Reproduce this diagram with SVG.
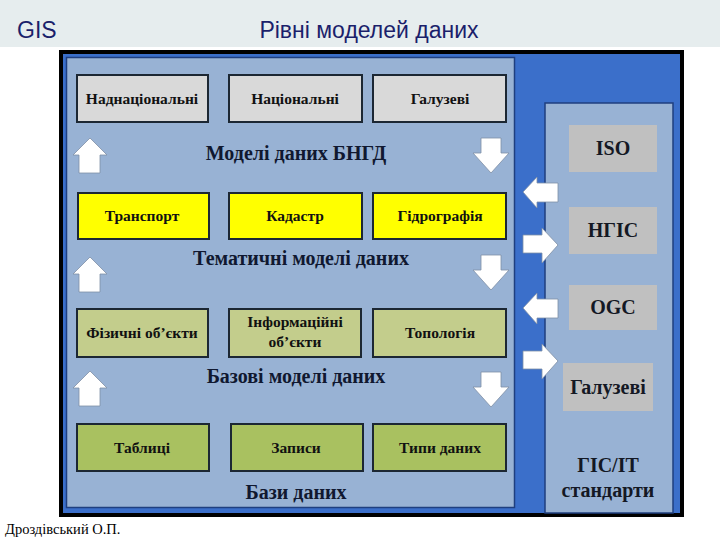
<svg xmlns="http://www.w3.org/2000/svg" width="720" height="540" viewBox="0 0 720 540">
<style>
.box{stroke:#1c2733;stroke-width:2}
.gray{fill:#d9d9d9}
.yel{fill:#ffff00}
.grn1{fill:#c3cd8c}
.grn2{fill:#a9c160}
.std{fill:#c0c0c0}
.bl{font-family:"Liberation Serif",serif;font-weight:bold;font-size:15.5px;fill:#111;text-anchor:middle}
.sec{font-family:"Liberation Serif",serif;font-weight:bold;font-size:20px;fill:#101830;text-anchor:middle}
.rs{font-family:"Liberation Serif",serif;font-weight:bold;font-size:20px;fill:#141824;text-anchor:middle}
.arr{fill:#ffffff;stroke:#7f8fa6;stroke-width:0.8}
.ttl{font-family:"Liberation Sans",Arial,sans-serif;font-size:23px;fill:#1b1f6b}
</style>
<defs>
<polygon id="up" points="0,0 17,17 10,17 10,35 -11,35 -11,17 -17,17"/>
<polygon id="down" points="0,0 18,-20 10,-20 10,-35 -10,-35 -10,-20 -18,-20"/>
<polygon id="left" points="0,0 14,-15 14,-9 35,-9 35,10 14,10 14,16"/>
<polygon id="right" points="0,0 -16,-17 -16,-10 -35,-10 -35,8 -16,8 -16,18"/>
</defs>
<rect x="0" y="0" width="720" height="47" fill="#e6edee"/>
<rect x="0" y="47" width="720" height="493" fill="#ffffff"/>
<text class="ttl" x="17" y="38">GIS</text>
<text class="ttl" x="369" y="38" text-anchor="middle">Рівні моделей даних</text>
<g id="frame">
<rect x="61" y="52" width="621" height="463" fill="#3b6fca" stroke="#000" stroke-width="4"/>
<rect x="66.5" y="57.5" width="448" height="450" fill="#98b2d4" stroke="#1f3f7f" stroke-width="1.5"/>
<rect x="545" y="103" width="128" height="410" fill="#98b2d4" stroke="#1f3f7f" stroke-width="1.5"/>
</g>
<g id="n1"><rect class="box gray" x="77" y="75" width="131" height="47"/><text class="bl" x="142" y="104">Наднаціональні</text></g>
<g id="n2"><rect class="box gray" x="229" y="75" width="133" height="47"/><text class="bl" x="295" y="104">Національні</text></g>
<g id="n3"><rect class="box gray" x="373" y="75" width="133" height="47"/><text class="bl" x="440" y="104">Галузеві</text></g>
<text class="sec" x="296" y="160">Моделі даних БНГД</text>
<g id="n4"><rect class="box yel" x="78" y="193" width="131" height="46"/><text class="bl" x="142" y="221">Транспорт</text></g>
<g id="n5"><rect class="box yel" x="229" y="193" width="133" height="46"/><text class="bl" x="295" y="221">Кадастр</text></g>
<g id="n6"><rect class="box yel" x="373" y="193" width="133" height="46"/><text class="bl" x="440" y="221">Гідрографія</text></g>
<text class="sec" x="301" y="265">Тематичні моделі даних</text>
<g id="n7"><rect class="box grn1" x="77" y="309" width="131" height="48"/><text class="bl" x="142" y="338">Фізичні об’єкти</text></g>
<g id="n8"><rect class="box grn1" x="229" y="309" width="132" height="48"/><text class="bl" x="295" y="327">Інформаційні</text><text class="bl" x="295" y="347">об’єкти</text></g>
<g id="n9"><rect class="box grn1" x="373" y="309" width="133" height="48"/><text class="bl" x="440" y="338">Топологія</text></g>
<text class="sec" x="296" y="383">Базові моделі даних</text>
<g id="n10"><rect class="box grn2" x="77" y="424" width="132" height="47"/><text class="bl" x="142" y="453">Таблиці</text></g>
<g id="n11"><rect class="box grn2" x="231" y="424" width="132" height="47"/><text class="bl" x="296" y="453">Записи</text></g>
<g id="n12"><rect class="box grn2" x="373" y="424" width="133" height="47"/><text class="bl" x="440" y="453">Типи даних</text></g>
<text class="sec" x="296" y="499">Бази даних</text>
<g id="s1"><rect class="std" x="569" y="125" width="88" height="47"/><text class="rs" x="613" y="155">ISO</text></g>
<g id="s2"><rect class="std" x="569" y="207" width="88" height="47"/><text class="rs" x="613" y="237">НГІС</text></g>
<g id="s3"><rect class="std" x="569" y="285" width="88" height="45"/><text class="rs" x="613" y="314">OGC</text></g>
<g id="s4"><rect class="std" x="563" y="363" width="90" height="48"/><text class="rs" x="608" y="394">Галузеві</text></g>
<g id="s5"><text class="rs" x="608" y="472">ГІС/ІТ</text><text class="rs" x="608" y="497">стандарти</text></g>
<g id="connectors">
<use href="#up" class="arr" x="90" y="138"/>
<use href="#up" class="arr" x="90" y="257"/>
<use href="#up" class="arr" x="90" y="371"/>
<use href="#down" class="arr" x="491" y="173"/>
<use href="#down" class="arr" x="491" y="290"/>
<use href="#down" class="arr" x="491" y="407"/>
<use href="#left" class="arr" x="523" y="192"/>
<use href="#right" class="arr" x="558" y="245"/>
<use href="#left" class="arr" x="523" y="308"/>
<use href="#right" class="arr" x="558" y="361"/>
</g>
<text x="5" y="534" font-family="'Liberation Serif',serif" font-size="14.5" fill="#000">Дроздівський О.П.</text>
</svg>
